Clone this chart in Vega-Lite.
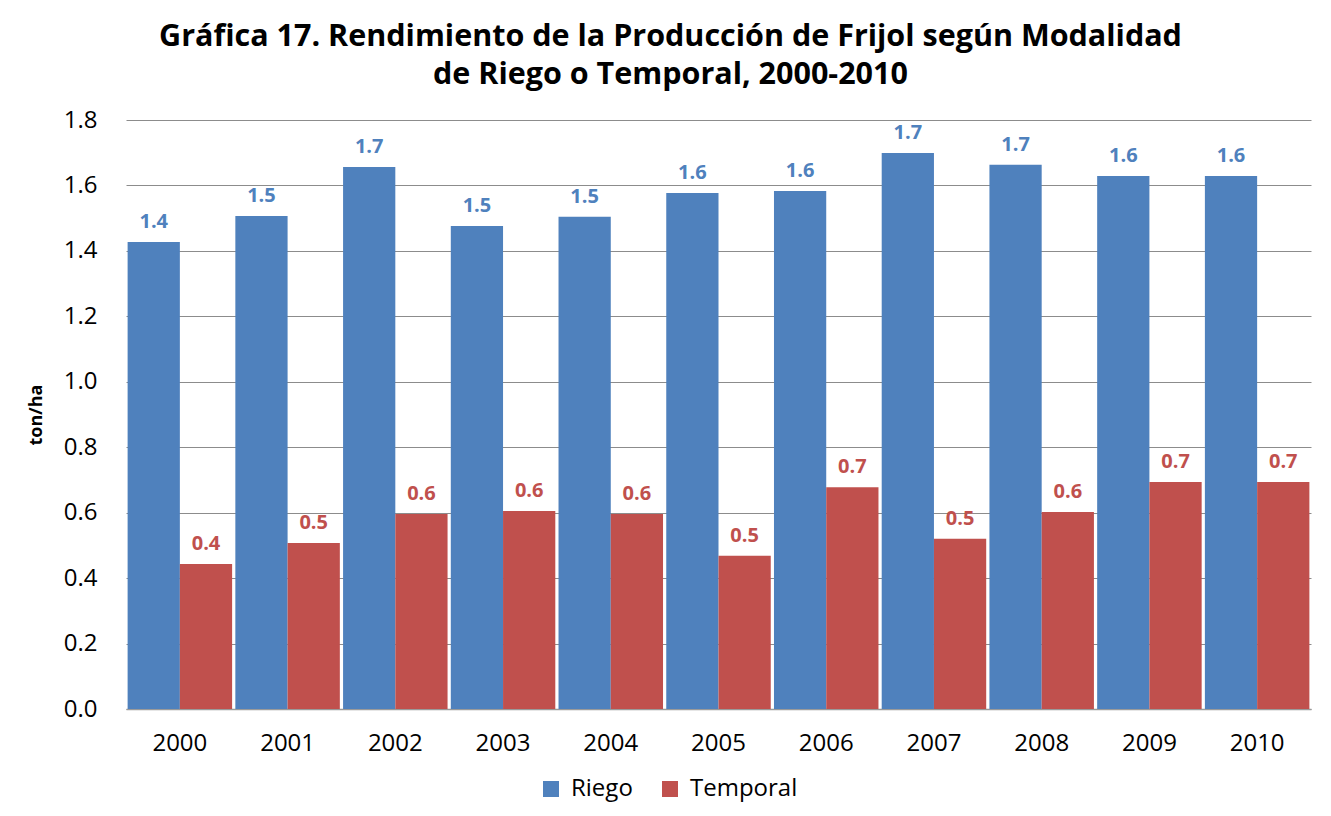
{
  "$schema": "https://vega.github.io/schema/vega-lite/v6.json",
  "autosize": {"type": "none"},
  "width": 1185,
  "height": 589,
  "padding": {"left": 126, "top": 120, "right": 20, "bottom": 107},
  "background": "white",
  "config": {
    "font": "Open Sans",
    "view": {"stroke": null}
  },
  "title": {
    "text": ["Gráfica 17. Rendimiento de la Producción de Frijol según Modalidad", "de Riego o Temporal, 2000-2010"],
    "font": "Open Sans",
    "fontSize": 30.5,
    "fontWeight": "bold",
    "color": "black",
    "lineHeight": 38,
    "anchor": "middle",
    "dx": -48,
    "offset": 18
  },
  "data": {
    "values": [
      {"anio": "2000", "serie": "Riego", "valor": 1.427},
      {"anio": "2000", "serie": "Temporal", "valor": 0.443},
      {"anio": "2001", "serie": "Riego", "valor": 1.507},
      {"anio": "2001", "serie": "Temporal", "valor": 0.507},
      {"anio": "2002", "serie": "Riego", "valor": 1.656},
      {"anio": "2002", "serie": "Temporal", "valor": 0.596},
      {"anio": "2003", "serie": "Riego", "valor": 1.476},
      {"anio": "2003", "serie": "Temporal", "valor": 0.605},
      {"anio": "2004", "serie": "Riego", "valor": 1.504},
      {"anio": "2004", "serie": "Temporal", "valor": 0.596},
      {"anio": "2005", "serie": "Riego", "valor": 1.577},
      {"anio": "2005", "serie": "Temporal", "valor": 0.468},
      {"anio": "2006", "serie": "Riego", "valor": 1.583},
      {"anio": "2006", "serie": "Temporal", "valor": 0.678},
      {"anio": "2007", "serie": "Riego", "valor": 1.699},
      {"anio": "2007", "serie": "Temporal", "valor": 0.52},
      {"anio": "2008", "serie": "Riego", "valor": 1.663},
      {"anio": "2008", "serie": "Temporal", "valor": 0.602},
      {"anio": "2009", "serie": "Riego", "valor": 1.629},
      {"anio": "2009", "serie": "Temporal", "valor": 0.694},
      {"anio": "2010", "serie": "Riego", "valor": 1.629},
      {"anio": "2010", "serie": "Temporal", "valor": 0.694}
    ]
  },
  "encoding": {
    "x": {
      "field": "anio",
      "type": "nominal",
      "scale": {"paddingInner": 0.03, "paddingOuter": 0.015},
      "axis": {
        "title": null,
        "labelAngle": 0,
        "labelFont": "Open Sans",
        "labelFontSize": 24,
        "labelColor": "black",
        "labelPadding": 22,
        "ticks": false,
        "tickSize": 0,
        "domain": true,
        "domainColor": "#9a9a9a",
        "domainWidth": 1.5,
        "grid": false
      }
    },
    "xOffset": {
      "field": "serie",
      "type": "nominal",
      "scale": {"paddingInner": 0, "paddingOuter": 0}
    },
    "y": {
      "field": "valor",
      "type": "quantitative",
      "scale": {"domain": [0, 1.8], "nice": false},
      "axis": {
        "title": "ton/ha",
        "titleFont": "Open Sans",
        "titleFontSize": 18,
        "titleFontWeight": "bold",
        "titleColor": "black",
        "titlePadding": 18,
        "values": [0, 0.2, 0.4, 0.6, 0.8, 1.0, 1.2, 1.4, 1.6, 1.8],
        "format": ".1f",
        "labelFont": "Open Sans",
        "labelFontSize": 24,
        "labelColor": "black",
        "labelPadding": 29,
        "ticks": false,
        "tickSize": 0,
        "domain": false,
        "grid": true,
        "gridColor": "#8c8c8c",
        "gridWidth": 1
      }
    },
    "color": {
      "field": "serie",
      "type": "nominal",
      "scale": {"domain": ["Riego", "Temporal"], "range": ["#4F81BD", "#C0504D"]},
      "legend": {
        "title": null,
        "orient": "none",
        "legendX": 413,
        "legendY": 657,
        "direction": "horizontal",
        "symbolType": "square",
        "symbolSize": 256,
        "symbolStrokeWidth": 0,
        "labelFont": "Open Sans",
        "labelFontSize": 24,
        "labelColor": "black",
        "labelOffset": 8,
        "columnPadding": 25
      }
    }
  },
  "layer": [
    {"mark": {"type": "bar", "strokeWidth": 0}},
    {
      "mark": {"type": "text", "baseline": "alphabetic", "dy": -14, "font": "Open Sans", "fontSize": 20, "fontWeight": "bold"},
      "encoding": {
        "text": {"field": "valor", "type": "quantitative", "format": ".1f"}
      }
    }
  ]
}
